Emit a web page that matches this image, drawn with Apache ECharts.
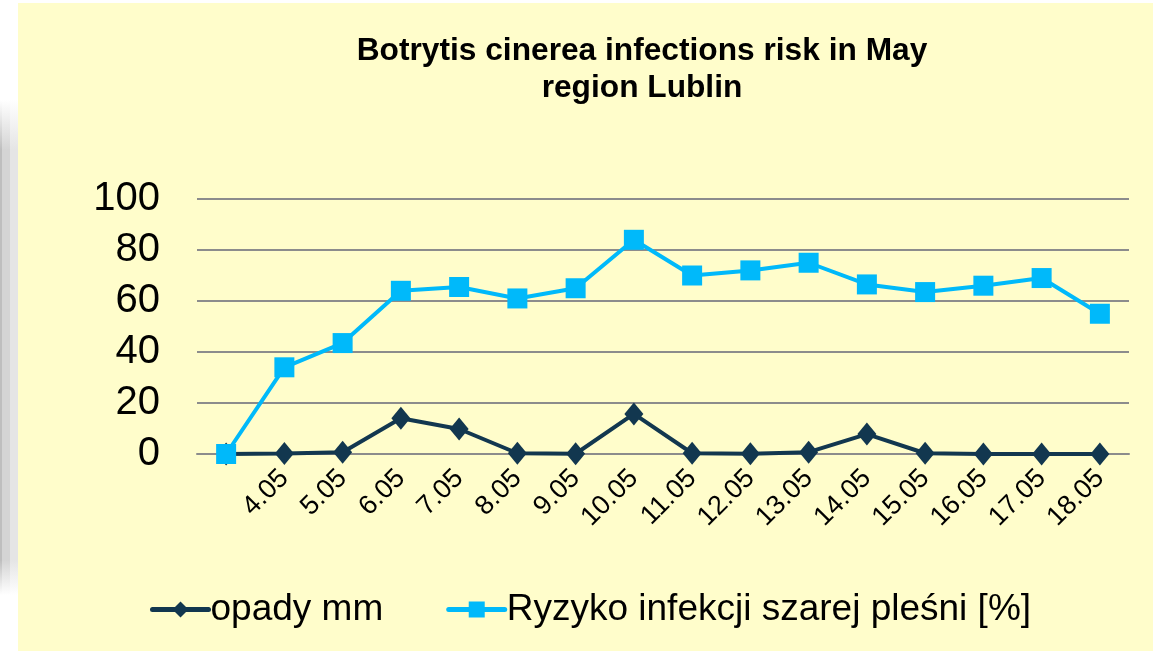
<!DOCTYPE html>
<html>
<head>
<meta charset="utf-8">
<script src="https://cdn.jsdelivr.net/npm/echarts@6/dist/echarts.min.js"></script>
<style>
  html, body { margin: 0; padding: 0; background: #ffffff; }
  #wrap { position: relative; width: 1153px; height: 651px; overflow: hidden; background: #ffffff; }
  #panel { position: absolute; left: 18px; top: 3px; right: 0; bottom: 0; background: #FFFDCB; }
  .sh { position: absolute; top: 100px; height: 500px; }
  #sh1 { left: 0; width: 2px; background: linear-gradient(to bottom, rgba(190,190,190,0) 0px, rgba(190,190,190,1) 50px, rgba(190,190,190,1) 460px, rgba(190,190,190,0) 495px); }
  #sh2 { left: 2px; width: 8px; background: linear-gradient(to bottom, rgba(212,212,212,0) 0px, rgba(212,212,212,1) 50px, rgba(212,212,212,1) 460px, rgba(212,212,212,0) 495px); }
  #sh3 { left: 10px; width: 8px; background: linear-gradient(to bottom, rgba(229,229,229,0) 0px, rgba(229,229,229,1) 50px, rgba(229,229,229,1) 460px, rgba(229,229,229,0) 495px); }
  #chart { position: absolute; left: 0; top: 0; width: 1153px; height: 651px; }
</style>
</head>
<body>
<div id="wrap">
  <div id="panel"></div>
  <div class="sh" id="sh1"></div>
  <div class="sh" id="sh2"></div>
  <div class="sh" id="sh3"></div>
  <div id="chart"></div>
</div>
<script>
const titleLines = ['Botrytis cinerea infections risk in May', 'region Lublin'];
const categories = ['', '4.05', '5.05', '6.05', '7.05', '8.05', '9.05', '10.05', '11.05', '12.05', '13.05', '14.05', '15.05', '16.05', '17.05', '18.05'];
const rainName = 'opady mm';
const rainValues = [0, 0.2, 0.7, 14, 9.8, 0.3, 0.1, 15.7, 0.3, 0.1, 0.7, 7.8, 0.3, 0, 0, 0];
const riskName = 'Ryzyko infekcji szarej pleśni [%]';
const riskValues = [0, 34, 43.5, 64, 65.5, 61, 65, 84, 70, 72, 75, 66.5, 63.5, 66, 69, 55];
const yTicks = [0, 20, 40, 60, 80, 100];

const FONT = 'Arial, "Liberation Sans", sans-serif';
const DARK = '#12374F';
const BLUE = '#00B9FA';
const GRID = '#8C8C8C';

const chart = echarts.init(document.getElementById('chart'), null, { renderer: 'canvas' });
chart.setOption({
  backgroundColor: 'transparent',
  animation: false,
  textStyle: { fontFamily: FONT },
  title: {
    text: titleLines.join('\n'),
    left: 637,
    top: 28,
    textAlign: 'center',
    textStyle: { fontFamily: FONT, fontSize: 31.7, fontWeight: 'bold', color: '#000', lineHeight: 37 }
  },
  legend: {
    left: 145,
    top: 586,
    itemWidth: 56,
    itemHeight: 20,
    itemGap: 63,
    lineStyle: { width: 5, cap: 'round' },
    textStyle: { fontFamily: FONT, fontSize: 37, color: '#000', padding: [0, 0, 0, -3] },
    data: [rainName, riskName]
  },
  grid: { left: 197, right: 24, top: 199, bottom: 197, containLabel: false },
  xAxis: {
    type: 'category',
    data: categories,
    boundaryGap: true,
    axisTick: { show: false },
    axisLine: { show: true, lineStyle: { color: GRID, width: 2 } },
    axisLabel: { rotate: 45, fontSize: 27, color: '#000', margin: 20, interval: 0, fontFamily: FONT },
    splitLine: { show: false }
  },
  yAxis: {
    type: 'value',
    min: yTicks[0],
    max: yTicks[yTicks.length - 1],
    interval: 20,
    axisLine: { show: false },
    axisTick: { show: false },
    axisLabel: { fontSize: 40, color: '#000', margin: 37, fontFamily: FONT },
    splitLine: { show: true, lineStyle: { color: GRID, width: 2 } }
  },
  series: [
    {
      name: rainName,
      type: 'line',
      data: rainValues,
      symbol: 'diamond',
      symbolSize: [19, 23],
      lineStyle: { color: DARK, width: 4 },
      itemStyle: { color: DARK },
      z: 2
    },
    {
      name: riskName,
      type: 'line',
      data: riskValues,
      symbol: 'rect',
      symbolSize: 20,
      lineStyle: { color: BLUE, width: 4 },
      itemStyle: { color: BLUE },
      z: 3
    }
  ]
});
</script>
</body>
</html>
